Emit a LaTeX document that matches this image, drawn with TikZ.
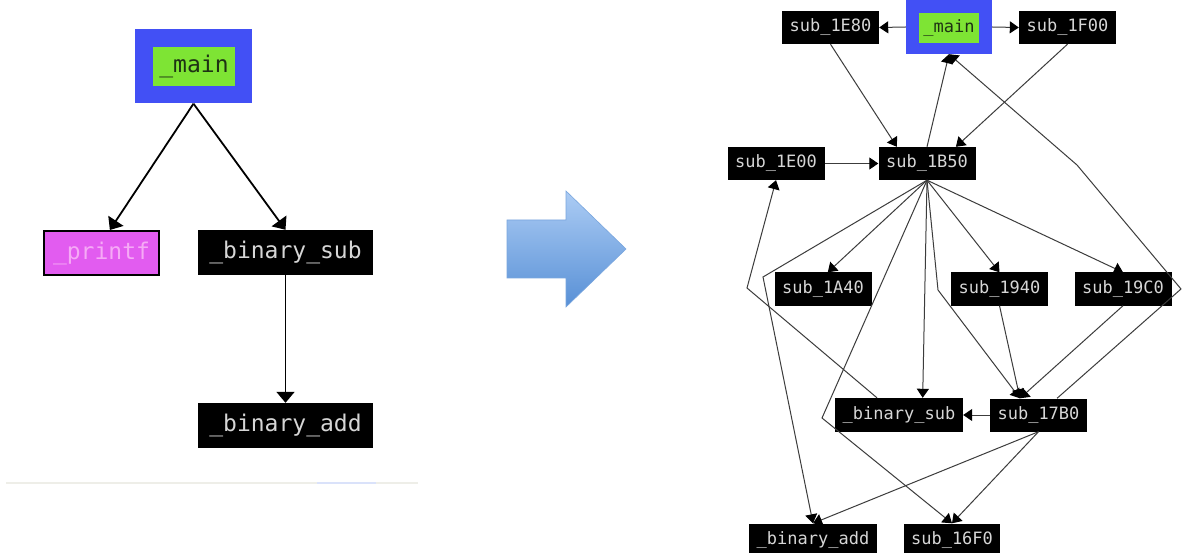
\documentclass[tikz,border=0pt]{standalone}
\usepackage{fontspec}
\setmonofont{DejaVu Sans Mono}
\usetikzlibrary{arrows.meta}
\definecolor{mainBlue}{RGB}{66,80,245}
\definecolor{mainGreen}{RGB}{126,228,52}
\definecolor{mainText}{RGB}{30,50,20}
\definecolor{printfPink}{RGB}{226,92,240}
\definecolor{printfText}{RGB}{246,170,246}
\definecolor{funcText}{RGB}{214,214,214}
\definecolor{edgeGray}{RGB}{60,60,60}
\definecolor{arrowTop}{RGB}{172,204,244}
\definecolor{arrowBottom}{RGB}{88,144,214}
\definecolor{scrollGray}{RGB}{238,238,232}
\definecolor{scrollBlue}{RGB}{218,226,250}

\begin{document}
\begin{tikzpicture}[x=1pt, y=-1pt,
    bigFunc/.style={fill=black, text=funcText, font=\fontsize{23}{23}\ttfamily, minimum width=175pt, minimum height=45pt, inner sep=0pt},
    smallFunc/.style={fill=black, text=funcText, font=\fontsize{17}{17}\ttfamily, minimum width=97pt, minimum height=33pt, inner sep=0pt},
    bigEdge/.style={line width=1.8pt, -{Triangle[width=18pt,length=11pt]}},
    smallEdge/.style={line width=1pt, draw=edgeGray, -{Triangle[width=12pt,length=9pt,color=black]}}]
    \path[use as bounding box, clip] (0,0) rectangle (1183,553);
    \fill[white] (0,0) rectangle (1183,553);

    % before: small call graph
    \node[fill=mainBlue, minimum width=117pt, minimum height=74pt] (lmain) at (193.5,66.5) {};
    \node[fill=mainGreen, text=mainText, font=\fontsize{23}{23}\ttfamily, minimum width=82pt, minimum height=39pt, inner sep=0pt] (lmainText) at (194,66.5) {\_main};
    \node[fill=printfPink, draw=black, line width=2pt, text=printfText, font=\fontsize{23}{23}\ttfamily, minimum width=115pt, minimum height=44pt, inner sep=0pt] (lprintf) at (101.5,253) {\_printf};
    \node[bigFunc] (lbsub) at (285.5,252.5) {\_binary\_sub};
    \node[bigFunc] (lbadd) at (285.5,425.5) {\_binary\_add};
    \draw[bigEdge] (lmain.south) -- (lprintf.70);
    \draw[bigEdge] (lmain.south) -- (lbsub.north);
    \draw[bigEdge] (lbsub.south) -- (lbadd.north);
    \draw[scrollGray, line width=2pt] (6,483) -- (418,483);
    \draw[scrollBlue, line width=2pt] (317,483) -- (376,483);

    % the big arrow
    \shade[top color=arrowTop, bottom color=arrowBottom, draw=arrowBottom!80!white, line width=0.6pt]
        (507,220) -- (566,220) -- (566,191) -- (626,249) -- (566,307) -- (566,278) -- (507,278) -- cycle;

    % after: obfuscated call graph
    \node[fill=mainBlue, minimum width=86pt, minimum height=54pt] (rmain) at (949,27) {};
    \node[fill=mainGreen, text=mainText, font=\fontsize{17}{17}\ttfamily, minimum width=60pt, minimum height=30pt, inner sep=0pt] (rmainText) at (949,28) {\_main};
    \node[smallFunc] (r1E80) at (830.5,27.5) {sub\_1E80};
    \node[smallFunc] (r1F00) at (1067.5,27.5) {sub\_1F00};
    \node[smallFunc] (r1E00) at (776,163.5) {sub\_1E00};
    \node[smallFunc] (r1B50) at (927,163.5) {sub\_1B50};
    \node[smallFunc] (r1A40) at (823,289) {sub\_1A40};
    \node[smallFunc] (r1940) at (999.5,289) {sub\_1940};
    \node[smallFunc] (r19C0) at (1123,289) {sub\_19C0};
    \node[smallFunc, minimum width=128pt, minimum height=34pt] (rbsub) at (899,415) {\_binary\_sub};
    \node[smallFunc] (r17B0) at (1038.5,415) {sub\_17B0};
    \node[smallFunc, minimum width=128pt] (rbadd) at (813,540) {\_binary\_add};
    \node[smallFunc, minimum width=96pt] (r16F0) at (952,540) {sub\_16F0};

    \draw[smallEdge] (rmain.west) -- (r1E80.east);
    \draw[smallEdge] (rmain.east) -- (r1F00.west);
    \draw[smallEdge] (r1E80.south) -- (r1B50.151);
    \draw[smallEdge] (r1F00.south) -- (r1B50.30);
    \draw[smallEdge] (r1B50.north) -- (rmain.south);
    \draw[smallEdge] (r1E00.east) -- (r1B50.west);
    \draw[smallEdge] (r1B50.south) -- (r1A40.74);
    \draw[smallEdge] (r1B50.south) -- (763,277) -- (rbadd.north);
    \draw[smallEdge] (r1B50.south) -- (822,418) -- (r16F0.north);
    \draw[smallEdge] (r1B50.south) -- (rbsub.36);
    \draw[smallEdge] (r1B50.south) -- (938,290) -- (r17B0.138);
    \draw[smallEdge] (r1B50.south) -- (r1940.north);
    \draw[smallEdge] (r1B50.south) -- (r19C0.north);
    \draw[smallEdge] (r1940.south) -- (r17B0.138);
    \draw[smallEdge] (r19C0.south) -- (r17B0.138);
    \draw[smallEdge] (r17B0.west) -- (rbsub.east);
    \draw[smallEdge] (r17B0.south) -- (rbadd.north);
    \draw[smallEdge] (r17B0.south) -- (r16F0.north);
    \draw[smallEdge] (rbsub.142) -- (747,288) -- (r1E00.south);
    \draw[smallEdge] (r17B0.42) -- (1181,289) -- (1077,165) -- (rmain.south);
\end{tikzpicture}
\end{document}
